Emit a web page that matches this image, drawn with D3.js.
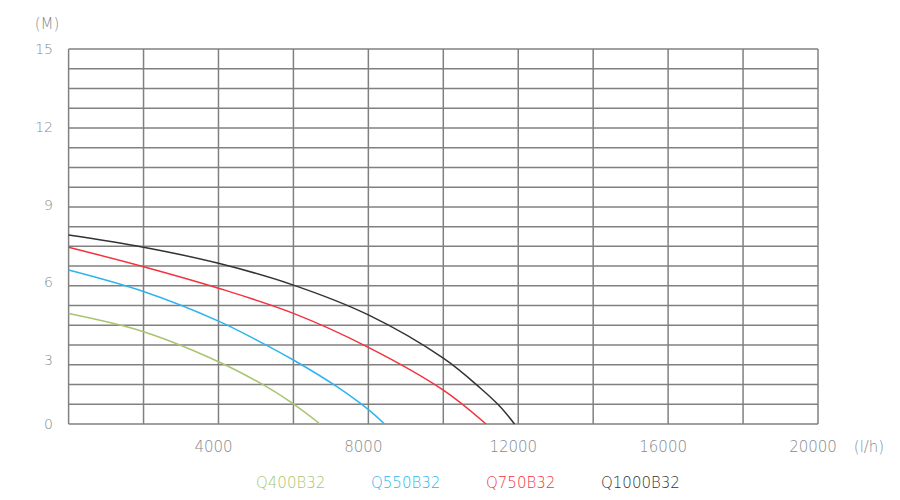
<!DOCTYPE html>
<html>
<head>
<meta charset="utf-8">
<script src="https://cdn.jsdelivr.net/npm/d3@7"></script>
<style>
  body { margin: 0; background: #fff; }
  svg text { font-family: "DejaVu Sans", sans-serif; font-weight: 200; }
</style>
</head>
<body>
<div id="chart"></div>
<script>
// flow in l/h, head in M
const names = ["Q400B32", "Q550B32", "Q750B32", "Q1000B32"];
const colors = ["#a8c46e", "#2bb5ef", "#f2333d", "#333333"];

const q400 = [[0, 4.79], [2000, 4.09], [4000, 2.92], [5200, 1.83], [5910, 1.05], [6710, 0]];
const q550 = [[0, 6.47], [2000, 5.64], [4000, 4.50], [5020, 3.77], [6000, 3.0], [7160, 1.75], [8010, 0.66], [8430, 0]];
const q750 = [[0, 7.35], [2000, 6.60], [4000, 5.77], [6000, 4.80], [8000, 3.49], [10000, 1.59], [11140, 0]];
const q1000 = [[0, 7.82], [2000, 7.35], [4000, 6.73], [6000, 5.89], [8000, 4.74], [10000, 3.07], [10985, 1.69], [11520, 0.81], [11900, 0]];

const xTicks = [4000, 8000, 12000, 16000, 20000];
const yTicks = [0, 3, 6, 9, 12, 15];
const gridRows = 19;

{
  const width = 900, height = 500;
  const left = 68.6, right = 818, top = 49, bottom = 424;

  const svg = d3.select("#chart").append("svg")
    .attr("width", width)
    .attr("height", height);

  const x = d3.scaleLinear().domain([0, 20000]).range([left, right]);
  // the original axis is not evenly spaced below 3 M
  const y = d3.scaleLinear().domain([0, 3, 15]).range([bottom, 360, top]);
  const row = d3.scaleLinear().domain([0, gridRows]).range([bottom, top]);

  const grid = svg.append("g")
    .attr("stroke", "#808080")
    .attr("stroke-width", 1.5)
    .attr("fill", "none");

  grid.selectAll("line.h")
    .data(d3.range(gridRows + 1))
    .enter().append("line")
      .classed("h", true)
      .attr("x1", left).attr("x2", right)
      .attr("y1", d => row(d)).attr("y2", d => row(d));

  grid.selectAll("line.v")
    .data(d3.range(0, 20001, 2000))
    .enter().append("line")
      .classed("v", true)
      .attr("x1", d => x(d)).attr("x2", d => x(d))
      .attr("y1", top).attr("y2", bottom);

  const line = d3.line()
    .x(d => x(d[0]))
    .y(d => y(d[1]))
    .curve(d3.curveCatmullRom.alpha(0.5));

  svg.append("g").selectAll("path")
    .data([q400, q550, q750, q1000])
    .enter().append("path")
      .attr("d", line)
      .attr("fill", "none")
      .attr("stroke", (d, i) => colors[i])
      .attr("stroke-width", 1.5);

  // axis labels
  svg.append("g").selectAll("text")
    .data(yTicks)
    .enter().append("text")
      .attr("x", 53)
      .attr("y", d => y(d) + 5)
      .attr("text-anchor", "end")
      .attr("font-size", 14)
      .attr("fill", "#858a90")
      .text(d => d);

  svg.append("text")
    .attr("x", 47).attr("y", 29)
    .attr("text-anchor", "middle")
    .attr("font-size", 15)
    .attr("fill", "#858a90")
    .text("(M)");

  svg.append("g").selectAll("text")
    .data(xTicks)
    .enter().append("text")
      .attr("x", d => x(d) - 5)
      .attr("y", 452)
      .attr("text-anchor", "middle")
      .attr("font-size", 15)
      .attr("fill", "#858a90")
      .text(d => d);

  svg.append("text")
    .attr("x", 869).attr("y", 452)
    .attr("text-anchor", "middle")
    .attr("font-size", 15)
    .attr("fill", "#858a90")
    .text("(l/h)");

  // legend
  svg.append("g").selectAll("text")
    .data(names)
    .enter().append("text")
      .attr("x", (d, i) => 256 + i * 115)
      .attr("y", 488)
      .attr("font-size", 15)
      .attr("fill", (d, i) => colors[i])
      .text(d => d);
}
</script>
</body>
</html>
